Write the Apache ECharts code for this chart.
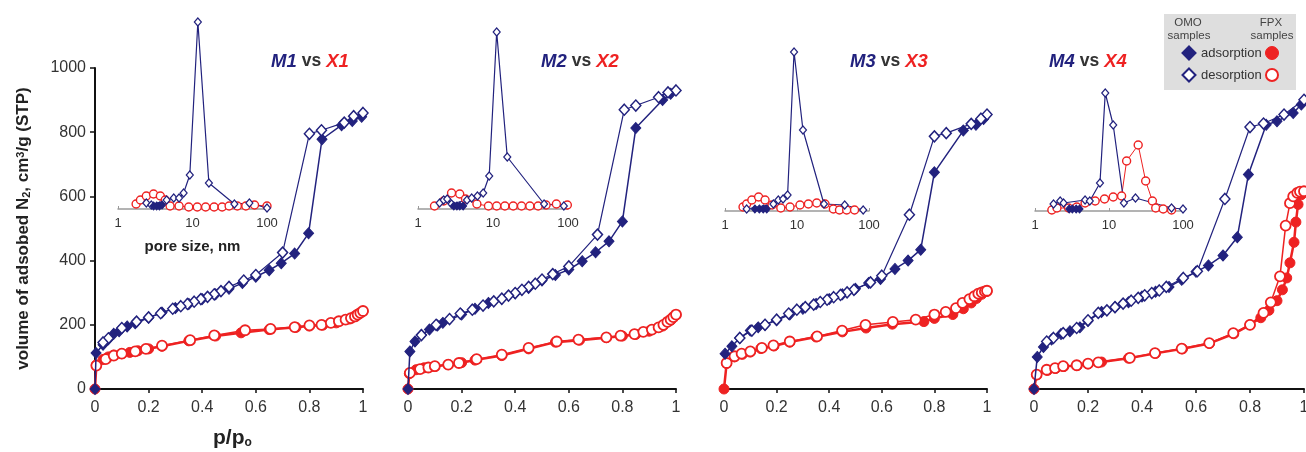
<!DOCTYPE html>
<html>
<head>
<meta charset="utf-8">
<script src="https://cdn.jsdelivr.net/npm/echarts@6/dist/echarts.min.js"></script>
<style>
  html, body { margin: 0; padding: 0; background: #fff; }
  #chart { width: 1306px; height: 452px; }
</style>
</head>
<body>
<div id="chart"></div>
<script>
// isotherms: [p/p0, volume cm3/g]
var m1Ads = [[0,0],[0.004,112],[0.03,138],[0.05,155],[0.07,172],[0.09,180],[0.12,195],[0.15,205],[0.2,222],[0.25,238],[0.3,252],[0.35,265],[0.4,280],[0.45,295],[0.5,312],[0.55,330],[0.6,350],[0.65,370],[0.695,392],[0.745,422],[0.797,485],[0.847,778],[0.92,822],[0.96,835],[0.995,848]];
var m1Des = [[1.0,860],[0.965,850],[0.93,830],[0.845,806],[0.8,795],[0.7,425],[0.6,355],[0.555,338],[0.5,318],[0.47,305],[0.445,295],[0.42,287],[0.395,280],[0.37,272],[0.345,265],[0.32,258],[0.29,250],[0.245,236],[0.2,223],[0.155,210],[0.1,190],[0.05,158],[0.03,145]];
var x1Ads = [[0,0],[0.005,75],[0.03,92],[0.05,100],[0.07,106],[0.1,110],[0.13,114],[0.16,119],[0.2,125],[0.25,133],[0.35,150],[0.45,165],[0.545,175],[0.65,185],[0.75,192],[0.8,196],[0.85,199],[0.9,206],[0.95,218],[0.98,232],[1.0,242]];
var x1Des = [[0.005,73],[0.04,93],[0.07,104],[0.1,110],[0.15,117],[0.19,125],[0.25,135],[0.355,152],[0.445,167],[0.56,183],[0.655,187],[0.745,193],[0.8,198],[0.845,200],[0.88,206],[0.91,211],[0.935,216],[0.955,221],[0.97,226],[0.98,232],[0.99,237],[1.0,243]];

var m2Ads = [[0,0],[0.007,117],[0.026,148],[0.05,168],[0.08,185],[0.11,198],[0.13,206],[0.2,232],[0.25,250],[0.3,268],[0.35,282],[0.4,298],[0.45,315],[0.5,338],[0.55,355],[0.6,372],[0.65,398],[0.7,426],[0.75,460],[0.8,522],[0.85,813],[0.95,900],[0.98,920]];
var m2Des = [[1.0,930],[0.97,924],[0.935,909],[0.85,883],[0.807,870],[0.707,481],[0.6,382],[0.54,358],[0.5,341],[0.475,328],[0.45,318],[0.425,309],[0.4,299],[0.375,291],[0.35,281],[0.32,273],[0.28,260],[0.24,247],[0.195,235],[0.155,218],[0.105,200],[0.05,168]];
var x2Ads = [[0,0],[0.005,48],[0.03,60],[0.06,66],[0.1,70],[0.15,76],[0.2,82],[0.25,90],[0.35,104],[0.45,125],[0.55,146],[0.64,152],[0.74,160],[0.8,165],[0.85,170],[0.9,180],[0.95,196],[0.98,214],[1.0,230]];
var x2Des = [[0.007,50],[0.045,62],[0.076,67],[0.1,71],[0.15,76],[0.19,81],[0.256,93],[0.35,107],[0.45,128],[0.555,148],[0.636,154],[0.74,161],[0.793,166],[0.845,171],[0.878,178],[0.91,185],[0.935,192],[0.953,200],[0.968,209],[0.98,216],[0.99,224],[1.0,232]];

var m3Ads = [[0.004,110],[0.03,133],[0.06,159],[0.1,182],[0.13,192],[0.156,200],[0.2,214],[0.25,232],[0.3,250],[0.35,265],[0.4,280],[0.45,295],[0.5,312],[0.55,330],[0.595,343],[0.65,374],[0.7,400],[0.748,434],[0.8,675],[0.91,805],[0.958,823],[0.987,841]];
var m3Des = [[1.0,855],[0.977,842],[0.94,826],[0.845,797],[0.8,787],[0.705,543],[0.6,353],[0.557,332],[0.494,309],[0.468,301],[0.443,293],[0.417,286],[0.392,278],[0.366,271],[0.341,263],[0.309,255],[0.277,247],[0.246,235],[0.2,216],[0.156,200],[0.106,182],[0.06,159]];
var x3Ads = [[0,0],[0.01,80],[0.04,100],[0.07,108],[0.1,115],[0.14,126],[0.19,134],[0.25,146],[0.35,162],[0.45,178],[0.54,190],[0.64,202],[0.76,210],[0.8,220],[0.87,232],[0.91,250],[0.94,268],[0.96,282],[0.98,295],[1.0,304]];
var x3Des = [[0.01,81],[0.04,102],[0.067,110],[0.1,117],[0.144,128],[0.188,136],[0.25,148],[0.354,164],[0.449,182],[0.538,200],[0.642,209],[0.729,216],[0.8,232],[0.843,240],[0.882,252],[0.907,268],[0.933,280],[0.952,289],[0.967,297],[0.98,301],[0.992,304],[1.0,306]];

var m4Ads = [[0,0],[0.012,100],[0.035,131],[0.065,154],[0.1,171],[0.133,180],[0.17,192],[0.2,212],[0.25,240],[0.3,255],[0.35,270],[0.4,288],[0.45,303],[0.5,318],[0.547,340],[0.6,365],[0.646,385],[0.7,416],[0.753,473],[0.794,668],[0.86,823],[0.9,834],[0.96,860],[0.99,886]];
var m4Des = [[1.0,901],[0.926,855],[0.85,827],[0.8,816],[0.707,592],[0.605,367],[0.553,346],[0.49,318],[0.464,307],[0.436,299],[0.41,292],[0.386,284],[0.36,275],[0.33,266],[0.3,255],[0.27,245],[0.238,237],[0.2,214],[0.158,190],[0.108,174],[0.072,159],[0.047,148]];
var x4Ads = [[0,0],[0.01,44],[0.05,58],[0.08,64],[0.11,70],[0.16,73],[0.2,78],[0.25,84],[0.35,96],[0.45,111],[0.55,125],[0.65,142],[0.74,172],[0.8,200],[0.84,222],[0.87,245],[0.9,275],[0.92,309],[0.936,346],[0.948,393],[0.963,457],[0.97,520],[0.978,575],[0.99,605],[1.0,615]];
var x4Des = [[0.01,45],[0.047,60],[0.078,65],[0.108,71],[0.158,74],[0.2,79],[0.238,83],[0.355,97],[0.448,112],[0.547,126],[0.649,143],[0.738,174],[0.8,200],[0.85,237],[0.877,270],[0.911,351],[0.932,509],[0.948,579],[0.96,600],[0.975,611],[0.985,615],[1.0,616]];

// pore size distributions (insets): [pore size nm, arbitrary units]
var m1PsdDes = [[2.4,6],[2.8,4],[4.5,9],[5.6,11],[6.6,11],[7.6,16],[9.2,34],[11.8,187],[16.6,26],[36.5,5],[58,6],[100,1]];
var m1PsdAds = [[3.0,3],[3.3,3],[3.6,3],[3.9,4]];
var x1Psd = [[1.75,5],[2.0,9],[2.4,13],[3.0,15],[3.7,13],[4.3,9],[5.0,3],[6.6,3],[8.9,2],[11.6,2],[15,2],[19.5,2],[25,2],[31,3],[40,3],[52,3],[68,4],[100,3]];

var m2PsdDes = [[1.94,6],[2.2,9],[2.45,10],[2.8,5],[4.5,9],[5.2,11],[6.2,13],[7.4,16],[8.9,33],[11.2,177],[15.5,52],[48,5],[88,3]];
var m2PsdAds = [[3.0,3],[3.3,3],[3.6,3],[4.0,3]];
var x2Psd = [[1.66,3],[2.2,8],[2.8,16],[3.6,15],[4.3,10],[6.1,5],[8.7,3],[11.2,3],[14.4,3],[18.6,3],[24,3],[31,3],[40,3],[51,4],[70,5],[98,4]];

var m3PsdDes = [[2.0,2],[4.7,7],[5.5,11],[6.4,12],[7.4,16],[9.1,159],[12.1,81],[23.7,7],[46,6],[83,1]];
var m3PsdAds = [[2.6,2],[3.0,2],[3.4,2],[3.8,2]];
var x3Psd = [[1.78,4],[2.0,7],[2.36,11],[2.93,14],[3.6,11],[4.5,6],[5.96,3],[8,4],[11,6],[14.4,7],[18.8,8],[24.5,7],[32,2],[38.9,1],[49,1],[63,1]];

var m4PsdDes = [[1.78,7],[2.19,10],[2.43,8],[4.75,11],[5.5,10],[7.55,28],[8.9,118],[11.4,86],[15.9,8],[22.8,13],[70,3],[100,2]];
var m4PsdAds = [[2.9,2],[3.2,2],[3.6,2],[4.0,2]];
var x4Psd = [[1.69,1],[1.98,3],[2.84,3],[3.67,4],[4.75,8],[6.5,10],[8.7,12],[11.4,14],[14.8,15],[17.3,50],[24.8,66],[31.3,30],[38.6,10],[42.8,3],[54,2],[70,1]];

var panelNames = [['M1','X1'],['M2','X2'],['M3','X3'],['M4','X4']];

var NAVY = '#22227e';
var RED = '#ee2222';

var chartDom = document.getElementById('chart');
var myChart = echarts.init(chartDom);

// layout in px
var mainLeft = [95, 408, 724, 1034];
var mainWidth = [268, 268, 263, 270];
var insetLeft = [118, 418, 725, 1035];
var insetWidth = [149, 150, 144, 148];
var insetBase = [209, 209, 211, 211];
var titleLeft = [266, 536, 845, 1044];

var isoData = [
  [m1Ads, m1Des, x1Ads, x1Des],
  [m2Ads, m2Des, x2Ads, x2Des],
  [m3Ads, m3Des, x3Ads, x3Des],
  [m4Ads, m4Des, x4Ads, x4Des]
];
var psdData = [
  [m1PsdDes, m1PsdAds, x1Psd],
  [m2PsdDes, m2PsdAds, x2Psd],
  [m3PsdDes, m3PsdAds, x3Psd],
  [m4PsdDes, m4PsdAds, x4Psd]
];

function line(data, axis, opt) {
  return {
    type: 'line',
    data: data,
    xAxisIndex: axis,
    yAxisIndex: axis,
    symbol: opt.symbol,
    symbolSize: opt.size,
    showAllSymbol: true,
    clip: false,
    silent: true,
    animation: false,
    z: opt.z,
    lineStyle: { color: opt.color, width: opt.lw },
    itemStyle: {
      color: opt.filled ? opt.color : '#ffffff',
      borderColor: opt.color,
      borderWidth: opt.bw
    }
  };
}

var grids = [], xAxes = [], yAxes = [], series = [], titles = [];

for (var i = 0; i < 4; i++) {
  grids.push({ left: mainLeft[i], width: mainWidth[i], top: 68, height: 321, outerBoundsMode: 'none' });
  xAxes.push({
    type: 'value', gridIndex: i, min: 0, max: 1, interval: 0.2,
    axisLine: { lineStyle: { color: '#111', width: 2 } },
    axisTick: { length: 4, lineStyle: { color: '#111', width: 1.5 } },
    axisLabel: { fontSize: 16, color: '#333', margin: 11, fontFamily: 'Liberation Sans, Arial' },
    splitLine: { show: false }
  });
  var ya = {
    type: 'value', gridIndex: i, min: 0, max: 1000, interval: 200,
    splitLine: { show: false }
  };
  if (i === 0) {
    ya.axisLine = { show: true, lineStyle: { color: '#111', width: 2 } };
    ya.axisTick = { show: true, length: 5, lineStyle: { color: '#111', width: 1.5 } };
    ya.axisLabel = { fontSize: 16, color: '#333', margin: 9, fontFamily: 'Liberation Sans, Arial',
      formatter: function (v) { return String(v); } };
    ya.name = '{t|volume of adsobed N}{sb|2}{t|, cm}{sp|3}{t|/g (STP)}';
    ya.nameLocation = 'middle';
    ya.nameRotate = 90;
    ya.nameGap = 63;
    ya.nameTextStyle = {
      fontFamily: 'Liberation Sans, Arial',
      rich: {
        t: { fontSize: 17, fontWeight: 'bold', color: '#222' },
        sb: { fontSize: 11, fontWeight: 'bold', color: '#222', verticalAlign: 'bottom' },
        sp: { fontSize: 11, fontWeight: 'bold', color: '#222', verticalAlign: 'top' }
      }
    };
  } else {
    ya.show = false;
  }
  yAxes.push(ya);

  var d = isoData[i];
  series.push(line(d[2], i, { symbol: 'circle', size: 10, color: RED, filled: true, lw: 2.5, bw: 1, z: 3 }));
  series.push(line(d[3], i, { symbol: 'circle', size: 10, color: RED, filled: false, lw: 1.5, bw: 1.8, z: 4 }));
  series.push(line(d[0], i, { symbol: 'diamond', size: [10, 11], color: NAVY, filled: true, lw: 1.5, bw: 1, z: 5 }));
  series.push(line(d[1], i, { symbol: 'diamond', size: [10, 11], color: NAVY, filled: false, lw: 1.2, bw: 1.5, z: 6 }));

  titles.push({
    text: '{m|' + panelNames[i][0] + '} {v|vs} {x|' + panelNames[i][1] + '}',
    left: titleLeft[i], top: 47,
    textStyle: {
      fontSize: 18, fontFamily: 'Liberation Sans, Arial',
      rich: {
        m: { fontSize: 18.5, fontWeight: 'bold', fontStyle: 'italic', color: NAVY },
        v: { fontSize: 17.5, color: '#333' },
        x: { fontSize: 18.5, fontWeight: 'bold', fontStyle: 'italic', color: RED }
      }
    }
  });
}

for (var k = 0; k < 4; k++) {
  var gi = 4 + k;
  grids.push({ left: insetLeft[k], width: insetWidth[k], top: insetBase[k] - 200, height: 200, outerBoundsMode: 'none' });
  var xa = {
    type: 'log', logBase: 10, gridIndex: gi, min: 1, max: 100,
    axisLine: { lineStyle: { color: '#9a9a9a', width: 1.5 } },
    axisTick: { show: true, length: 3, inside: true, lineStyle: { color: '#9a9a9a' } },
    minorTick: { show: false },
    axisLabel: { fontSize: 13, color: '#333', margin: 8, fontFamily: 'Liberation Sans, Arial' },
    splitLine: { show: false }
  };
  if (k === 0) {
    xa.name = 'pore size, nm';
    xa.nameLocation = 'middle';
    xa.nameGap = 30;
    xa.nameTextStyle = { fontSize: 15, fontWeight: 'bold', color: '#222', fontFamily: 'Liberation Sans, Arial' };
  }
  xAxes.push(xa);
  yAxes.push({ type: 'value', gridIndex: gi, min: 0, max: 200, show: false });

  var p = psdData[k];
  series.push(line(p[2], gi, { symbol: 'circle', size: 8, color: RED, filled: false, lw: 1, bw: 1.4, z: 2 }));
  series.push(line(p[0], gi, { symbol: 'diamond', size: [7, 8], color: NAVY, filled: false, lw: 1.2, bw: 1.2, z: 2 }));
  series.push(line(p[1], gi, { symbol: 'diamond', size: [7, 8], color: NAVY, filled: true, lw: 1.2, bw: 1, z: 2 }));
}

function diamond(cx, cy, r, filled) {
  return {
    type: 'polygon',
    shape: { points: [[cx, cy - r], [cx + r, cy], [cx, cy + r], [cx - r, cy]] },
    style: { fill: filled ? NAVY : '#fff', stroke: NAVY, lineWidth: 2 }
  };
}

var legendFont = 'Liberation Sans, Arial';
var graphics = [
  {
    type: 'text', left: 213, top: 428,
    style: {
      text: '{a|p/p}{s|o}',
      rich: {
        a: { fontSize: 21, fontWeight: 'bold', fill: '#222', fontFamily: legendFont },
        s: { fontSize: 12, fontWeight: 'bold', fill: '#222', fontFamily: legendFont, verticalAlign: 'bottom', padding: [8, 0, 0, 0] }
      }
    }
  },
  {
    type: 'rect', shape: { x: 1164, y: 14, width: 132, height: 76 },
    style: { fill: '#dedede' }
  },
  { type: 'text', x: 1188, y: 23, style: { text: 'OMO', fill: '#444', fontSize: 11.5, fontFamily: legendFont, textAlign: 'center', textVerticalAlign: 'middle' } },
  { type: 'text', x: 1189, y: 36, style: { text: 'samples', fill: '#444', fontSize: 11.5, fontFamily: legendFont, textAlign: 'center', textVerticalAlign: 'middle' } },
  { type: 'text', x: 1271, y: 23, style: { text: 'FPX', fill: '#444', fontSize: 11.5, fontFamily: legendFont, textAlign: 'center', textVerticalAlign: 'middle' } },
  { type: 'text', x: 1272, y: 36, style: { text: 'samples', fill: '#444', fontSize: 11.5, fontFamily: legendFont, textAlign: 'center', textVerticalAlign: 'middle' } },
  diamond(1189, 53, 6.5, true),
  diamond(1189, 75, 6.5, false),
  { type: 'text', x: 1201, y: 53, style: { text: 'adsorption', fill: '#333', fontSize: 13, fontFamily: legendFont, textVerticalAlign: 'middle' } },
  { type: 'text', x: 1201, y: 75, style: { text: 'desorption', fill: '#333', fontSize: 13, fontFamily: legendFont, textVerticalAlign: 'middle' } },
  { type: 'circle', shape: { cx: 1272, cy: 53, r: 6.5 }, style: { fill: RED, stroke: RED, lineWidth: 1 } },
  { type: 'circle', shape: { cx: 1272, cy: 75, r: 6 }, style: { fill: '#fff', stroke: RED, lineWidth: 2 } }
];

var option = {
  backgroundColor: '#ffffff',
  animation: false,
  title: titles,
  grid: grids,
  xAxis: xAxes,
  yAxis: yAxes,
  series: series,
  graphic: graphics
};

option && myChart.setOption(option);
</script>
</body>
</html>
